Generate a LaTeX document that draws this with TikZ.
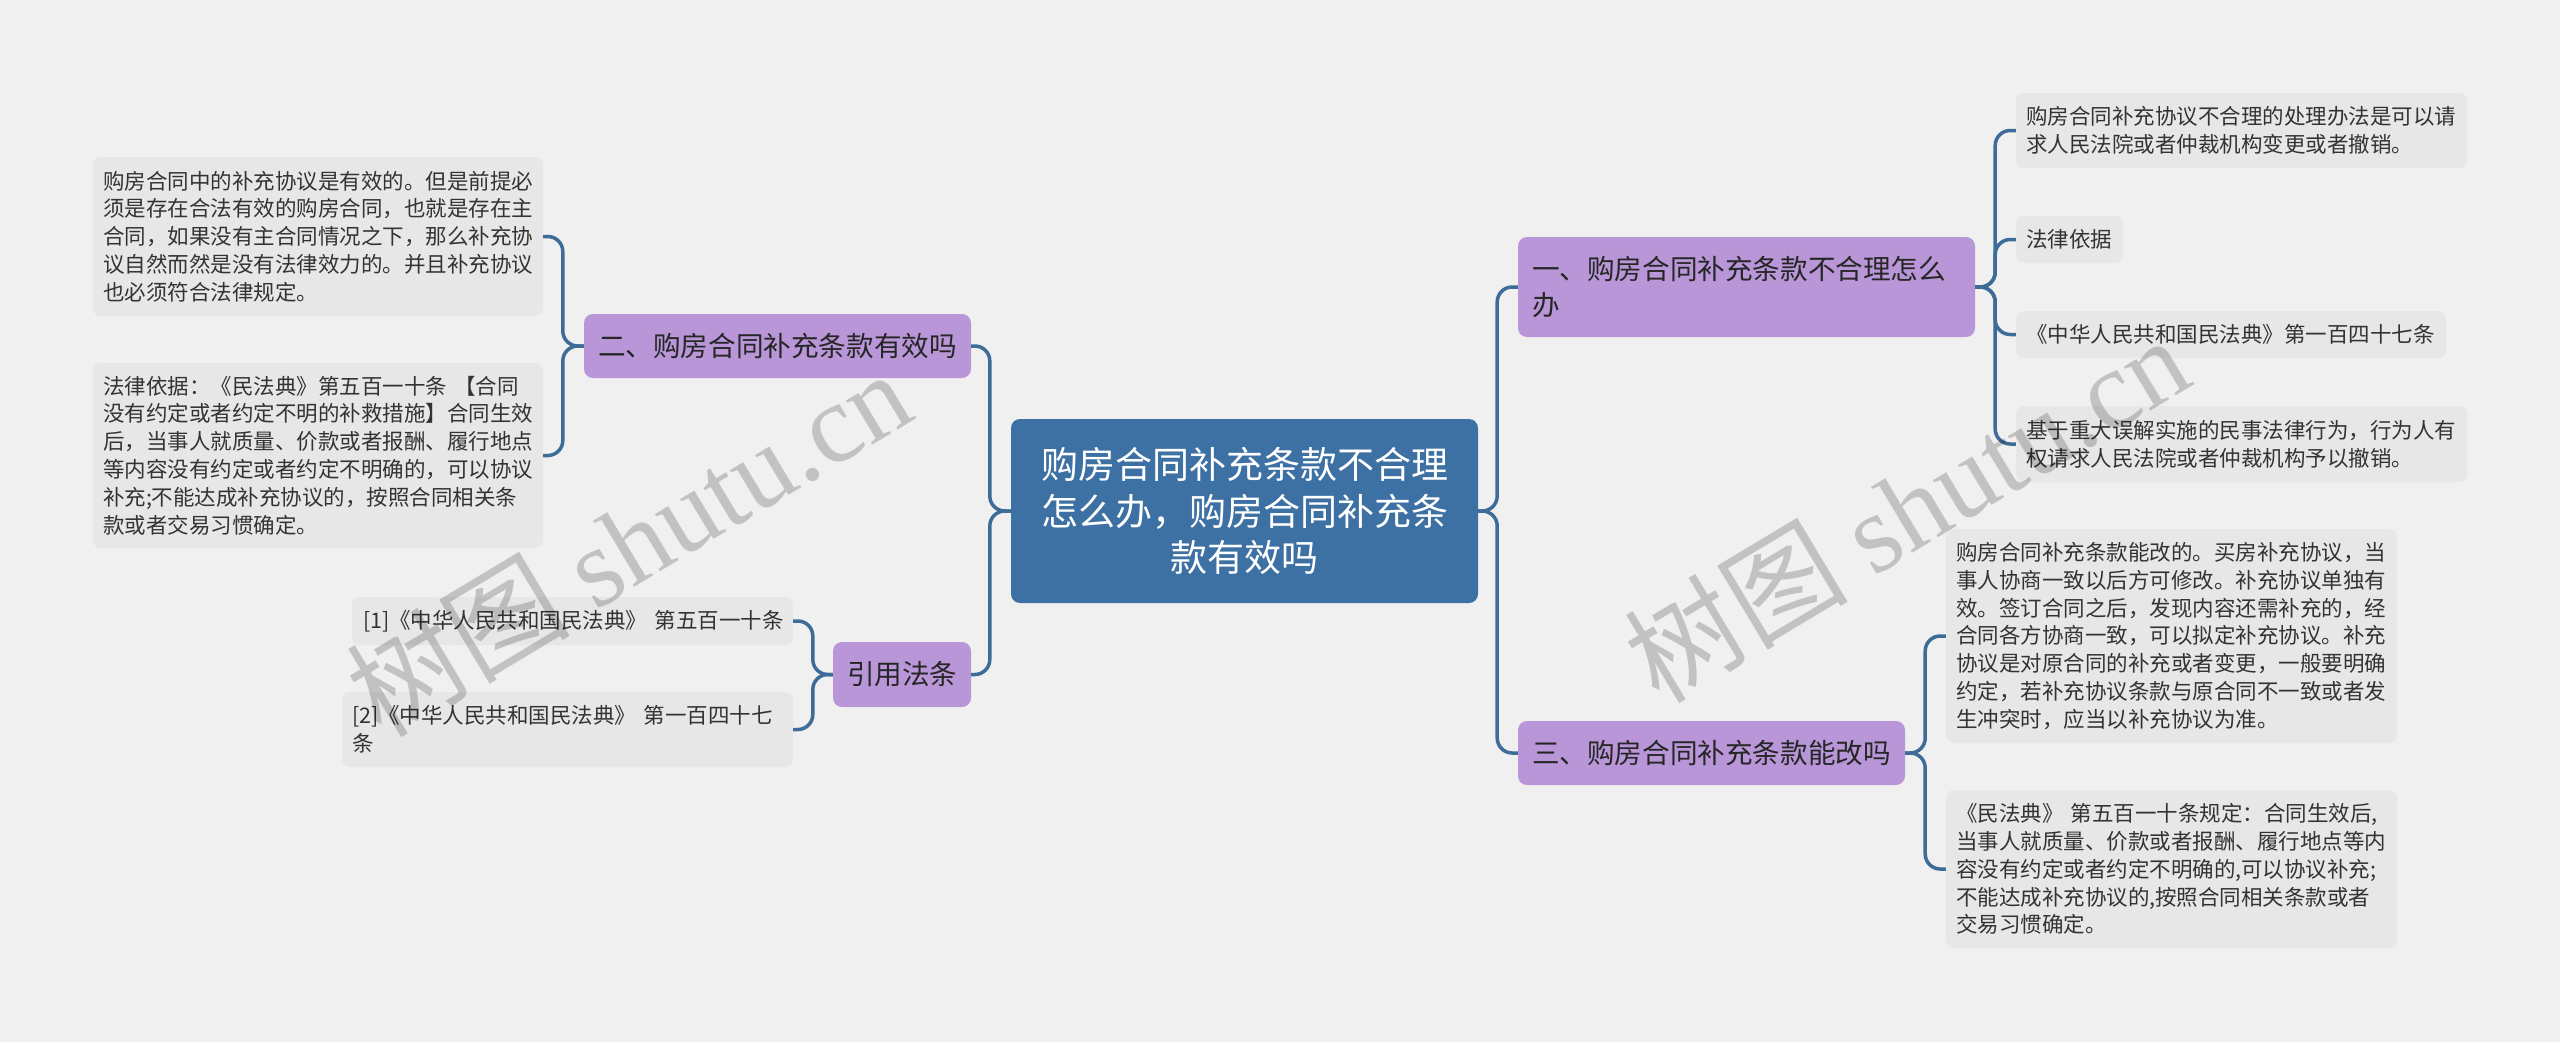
\documentclass[tikz,border=0pt]{standalone}
\usepackage{fontspec}
\setmainfont{Noto Sans CJK SC}
\newfontfamily\wmserif{Liberation Serif}
\newfontfamily\wmcjk{Noto Sans CJK SC}
\definecolor{bgc}{HTML}{F0F0F0}
\definecolor{leafc}{HTML}{E7E7E7}
\definecolor{rootc}{HTML}{3D70A3}
\definecolor{purc}{HTML}{B896D8}
\definecolor{linec}{HTML}{3E6C98}
\definecolor{txtc}{HTML}{333333}
\begin{document}
\begin{tikzpicture}[x=1pt,y=-1pt,
  conn/.style={draw=linec,line width=3.5pt,rounded corners=15pt},
  rootbox/.style={fill=rootc,rounded corners=9pt,text=white,align=center,inner xsep=15pt,inner ysep=0pt,font={\fontsize{37}{46.7}\selectfont}},
  topic/.style={fill=purc,rounded corners=9pt,text=black!85,inner xsep=14pt,inner ysep=0pt,font={\fontsize{27.6}{36}\selectfont}},
  leaf/.style={fill=leafc,rounded corners=8pt,text=txtc,align=left,inner xsep=10pt,inner ysep=0pt,font={\fontsize{21.5}{27.8}\selectfont}},
  wm/.style={rotate=31,text=black,opacity=0.19,font={\fontsize{112}{112}\selectfont}}]
\useasboundingbox (0,0) rectangle (2560,1042);
\fill[bgc] (0,0) rectangle (2560,1042);

% root
\node[rootbox,text width=437pt,minimum height=184pt] (root) at (1244.5,511) {购房合同补充条款不合理\\怎么办，购房合同补充条\\款有效吗};

% level 1
\node[topic,align=left,text width=429pt,minimum height=100pt] (n1) at (1746.5,287) {一、购房合同补充条款不合理怎么\\办};
\node[topic,align=center,text width=359pt,minimum height=64pt] (n2) at (777.5,346) {二、购房合同补充条款有效吗};
\node[topic,align=center,text width=359pt,minimum height=64pt] (n3) at (1711.5,753) {三、购房合同补充条款能改吗};
\node[topic,align=center,text width=110pt,minimum height=65pt] (n4) at (902,674.5) {引用法条};

% left leaves
\node[leaf,text width=430pt,minimum height=159pt] (l1) at (318,236.5) {购房合同中的补充协议是有效的。但是前提必\\须是存在合法有效的购房合同，也就是存在主\\合同，如果没有主合同情况之下，那么补充协\\议自然而然是没有法律效力的。并且补充协议\\也必须符合法律规定。};
\node[leaf,text width=430pt,minimum height=185pt] (l2) at (318,455.5) {法律依据：《民法典》第五百一十条~【合同\\没有约定或者约定不明的补救措施】合同生效\\后，当事人就质量、价款或者报酬、履行地点\\等内容没有约定或者约定不明确的，可以协议\\补充;不能达成补充协议的，按照合同相关条\\款或者交易习惯确定。};
\node[leaf,inner xsep=11pt,text width=419pt,minimum height=48pt] (f1) at (572.5,621) {[1]《中华人民共和国民法典》~第五百一十条};
\node[leaf,text width=431pt,minimum height=75pt] (f2) at (567.5,729.5) {[2]《中华人民共和国民法典》~第一百四十七\\条};

% right leaves
\node[leaf,text width=431pt,minimum height=75pt] (r1) at (2241.5,130.5) {购房合同补充协议不合理的处理办法是可以请\\求人民法院或者仲裁机构变更或者撤销。};
\node[leaf,text width=87pt,minimum height=47pt] (r2) at (2069.5,239.5) {法律依据};
\node[leaf,text width=410pt,minimum height=47pt] (r3) at (2231,334.5) {《中华人民共和国民法典》第一百四十七条};
\node[leaf,text width=431pt,minimum height=76pt] (r4) at (2241.5,444) {基于重大误解实施的民事法律行为，行为人有\\权请求人民法院或者仲裁机构予以撤销。};
\node[leaf,text width=431pt,minimum height=214pt] (r5) at (2171.5,636) {购房合同补充条款能改的。买房补充协议，当\\事人协商一致以后方可修改。补充协议单独有\\效。签订合同之后，发现内容还需补充的，经\\合同各方协商一致，可以拟定补充协议。补充\\协议是对原合同的补充或者变更，一般要明确\\约定，若补充协议条款与原合同不一致或者发\\生冲突时，应当以补充协议为准。};
\node[leaf,text width=431pt,minimum height=158pt] (r6) at (2171.5,869) {《民法典》~第五百一十条规定：合同生效后,\\当事人就质量、价款或者报酬、履行地点等内\\容没有约定或者约定不明确的,可以协议补充;\\不能达成补充协议的,按照合同相关条款或者\\交易习惯确定。};

% connectors
\draw[conn] (root.east) -- ++(19,0) |- (n1.west);
\draw[conn] (root.east) -- ++(19,0) |- (n3.west);
\draw[conn] (root.west) -- ++(-21,0) |- (n2.east);
\draw[conn] (root.west) -- ++(-21,0) |- (n4.east);
\draw[conn] (n1.east) -- ++(20,0) |- (r1.west);
\draw[conn] (n1.east) -- ++(20,0) |- (r2.west);
\draw[conn] (n1.east) -- ++(20,0) |- (r3.west);
\draw[conn] (n1.east) -- ++(20,0) |- (r4.west);
\draw[conn] (n3.east) -- ++(20,0) |- (r5.west);
\draw[conn] (n3.east) -- ++(20,0) |- (r6.west);
\draw[conn] (n2.west) -- ++(-21,0) |- (l1.east);
\draw[conn] (n2.west) -- ++(-21,0) |- (l2.east);
\draw[conn] (n4.west) -- ++(-20,0) |- (f1.east);
\draw[conn] (n4.west) -- ++(-20,0) |- (f2.east);

% watermarks
\node[wm] (wm1) at (628,542) {{\wmcjk 树图} {\wmserif shutu.cn}};
\node[wm] (wm2) at (1906,508) {{\wmcjk 树图} {\wmserif shutu.cn}};
\end{tikzpicture}
\end{document}
